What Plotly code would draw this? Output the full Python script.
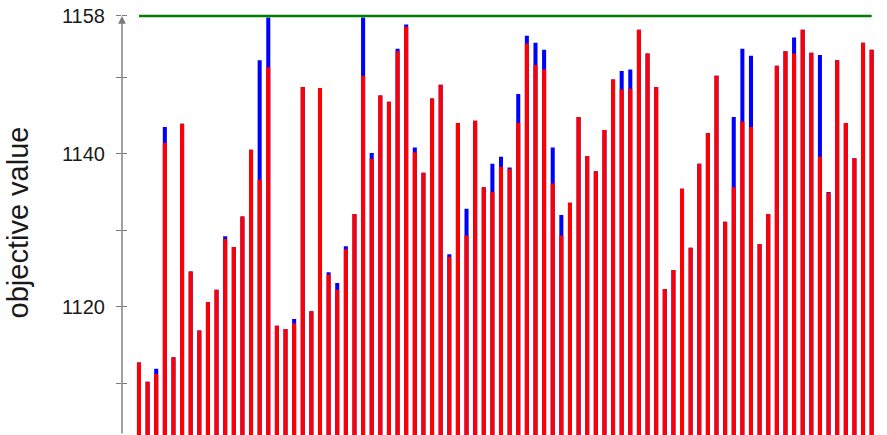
import plotly.graph_objects as go

red_values = [1112.7, 1110.2, 1111.2, 1141.4, 1113.4, 1143.9, 1124.6, 1116.9, 1120.6, 1122.2,
              1128.85, 1127.8, 1131.8, 1140.5, 1136.6, 1151.3, 1117.5, 1117.1, 1117.8, 1148.7,
              1119.4, 1148.6, 1124.2, 1122.2, 1127.5, 1132.1, 1150.2, 1139.35, 1147.6, 1146.8,
              1153.4, 1156.6, 1140.2, 1137.5, 1147.2, 1149.0, 1126.5, 1144.0, 1129.3, 1144.3,
              1135.6, 1135.0, 1138.3, 1138.0, 1144.0, 1154.4, 1151.6, 1151.0, 1136.1, 1129.3,
              1133.6, 1144.8, 1139.7, 1137.7, 1143.1, 1149.7, 1148.4, 1148.5, 1156.2, 1153.1,
              1148.7, 1122.3, 1124.8, 1135.4, 1127.7, 1138.7, 1142.7, 1150.2, 1131.1, 1135.6,
              1144.2, 1143.5, 1128.2, 1132.1, 1151.5, 1153.4, 1153.1, 1156.2, 1153.2, 1139.6,
              1134.9, 1152.2, 1144.0, 1139.4, 1154.5, 1153.6]

blue_values = [1112.7, 1110.2, 1111.9, 1143.5, 1113.4, 1143.9, 1124.6, 1116.9, 1120.6, 1122.2,
               1129.2, 1127.8, 1131.8, 1140.5, 1152.2, 1157.8, 1117.5, 1117.1, 1118.4, 1148.7,
               1119.4, 1148.6, 1124.5, 1123.1, 1127.9, 1132.1, 1157.8, 1140.1, 1147.6, 1146.8,
               1153.7, 1156.9, 1140.8, 1137.5, 1147.2, 1149.0, 1126.85, 1144.0, 1132.8, 1144.3,
               1135.6, 1138.7, 1139.6, 1138.2, 1147.8, 1155.4, 1154.5, 1153.6, 1140.8, 1132.0,
               1133.6, 1144.8, 1139.7, 1137.7, 1143.1, 1149.7, 1150.8, 1151.0, 1156.2, 1153.1,
               1148.7, 1122.3, 1124.8, 1135.4, 1127.7, 1138.7, 1142.7, 1150.2, 1131.1, 1144.8,
               1153.7, 1152.8, 1128.2, 1132.1, 1151.5, 1153.4, 1155.2, 1156.2, 1153.2, 1152.9,
               1135.0, 1152.2, 1144.0, 1139.4, 1154.5, 1153.6]

optimum = 1158
major_ticks = [1120, 1140, 1158]
minor_ticks = [1110, 1130, 1150]
y_label = "objective value"

n = len(red_values)
xs = list(range(n))
y_range = [1103.23, 1158.78]

fig = go.Figure()
fig.add_trace(go.Bar(x=xs, y=blue_values, marker=dict(color="#0000ff", line=dict(width=0)),
                     width=0.47, showlegend=False))
fig.add_trace(go.Bar(x=xs, y=red_values, marker=dict(color="#ff0000", line=dict(width=0)),
                     width=0.47, showlegend=False))
fig.add_trace(go.Scatter(x=[xs[0], xs[-1]], y=[optimum, optimum], mode="lines",
                         line=dict(color="#008000", width=2.6), yaxis="y2", showlegend=False))

axis_col = "#7a7a7a"
fig.update_layout(
    width=887, height=435,
    margin=dict(l=122, r=0, t=10, b=0, autoexpand=False),
    paper_bgcolor="white", plot_bgcolor="white",
    barmode="overlay",
    font=dict(family="Liberation Sans", color="#222222"),
    xaxis=dict(range=[-1.97, n - 1 + 1.78], showticklabels=False, showgrid=False,
               zeroline=False, showline=False, ticks="", automargin=False),
    yaxis=dict(range=y_range, tickvals=major_ticks, ticktext=[str(v) for v in major_ticks],
               ticks="outside", ticklen=5, tickwidth=1.2, tickcolor=axis_col,
               minor=dict(tickvals=minor_ticks, ticks="outside", ticklen=5, tickwidth=1.2,
                          tickcolor=axis_col),
               tickfont=dict(size=20, color="#1a1a1a"), ticklabelstandoff=7,
               ticklabeloverflow="allow",
               showgrid=False, zeroline=False, showline=False, automargin=False,
               title=dict(text=y_label, font=dict(size=29, color="#1a1a1a"), standoff=24)),
    yaxis2=dict(range=y_range, overlaying="y", side="left", tickvals=major_ticks,
                ticks="inside", ticklen=5, tickwidth=1.2, tickcolor=axis_col,
                minor=dict(tickvals=minor_ticks, ticks="inside", ticklen=5, tickwidth=1.2,
                           tickcolor=axis_col),
                showticklabels=False, showgrid=False, zeroline=False, showline=False,
                automargin=False),
)

# y axis line with arrow head
fig.add_annotation(xref="paper", x=0, yref="y", y=optimum, axref="pixel", ax=0,
                   ayref="y", ay=y_range[0], showarrow=True, arrowhead=2, arrowsize=1.1,
                   arrowwidth=1.4, arrowcolor=axis_col, text="")

# remove the default 8px page margin so the figure fills the window exactly
fig.write_html("out.html", config={"displayModeBar": False},
               post_script="document.body.style.margin='0';")
